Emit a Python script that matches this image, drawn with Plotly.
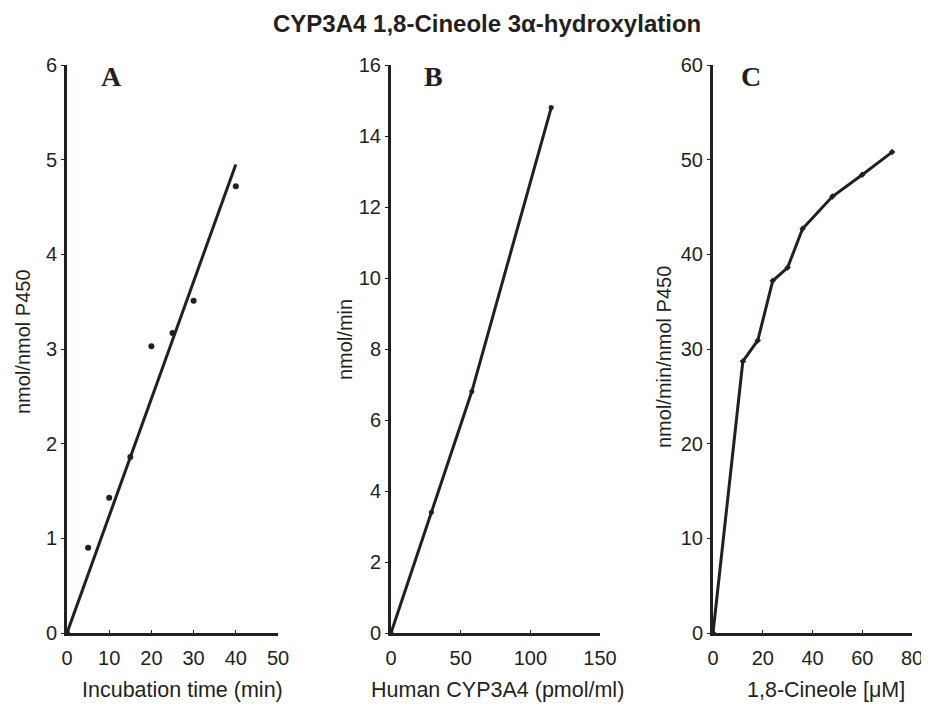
import plotly.graph_objects as go

# Panel A: time course
time_min = [0, 5, 10, 15, 20, 25, 30, 40]
product_a = [0, 0.9, 1.43, 1.86, 3.03, 3.17, 3.51, 4.72]
fit_time = [0, 40]
fit_a = [0, 4.95]

# Panel B: enzyme concentration
cyp_pmol = [0, 29, 58, 115]
rate_b = [0, 3.4, 6.8, 14.8]

# Panel C: substrate concentration
cineole_um = [0, 12, 18, 24, 30, 36, 48, 60, 72]
rate_c = [0, 28.7, 30.9, 37.2, 38.6, 42.7, 46.1, 48.4, 50.8]

INK = "#231f20"
W, H = 929, 705
OFF = 8  # page body margin offset

def px(x):
    return (x - OFF) / W

def py(y):
    return 1 - (y - OFF) / H

fig = go.Figure()

fig.add_trace(go.Scatter(x=fit_time, y=fit_a, mode="lines",
                         line=dict(color=INK, width=3), xaxis="x", yaxis="y",
                         cliponaxis=False, showlegend=False))
fig.add_trace(go.Scatter(x=time_min, y=product_a, mode="markers",
                         marker=dict(color=INK, size=6, symbol="circle"),
                         xaxis="x", yaxis="y", cliponaxis=False, showlegend=False))
fig.add_trace(go.Scatter(x=cyp_pmol, y=rate_b, mode="lines+markers",
                         line=dict(color=INK, width=3),
                         marker=dict(color=INK, size=5),
                         xaxis="x2", yaxis="y2", cliponaxis=False, showlegend=False))
fig.add_trace(go.Scatter(x=cineole_um, y=rate_c, mode="lines+markers",
                         line=dict(color=INK, width=3),
                         marker=dict(color=INK, size=5, symbol="diamond"),
                         xaxis="x3", yaxis="y3", cliponaxis=False, showlegend=False))

ydom = [py(633), py(65)]
tickfont = dict(family="Liberation Sans, Arial", size=20, color=INK)

def xax(dom, rng, dtick, anchor):
    return dict(domain=dom, range=rng, dtick=dtick, tick0=0, anchor=anchor,
                showline=True, linewidth=3, linecolor=INK, showgrid=False,
                zeroline=False, ticks="inside", ticklen=3, tickwidth=1,
                tickcolor=INK, tickfont=tickfont, ticklabelstandoff=5,
                automargin=False, fixedrange=True)

def yax(rng, dtick, anchor):
    return dict(domain=ydom, range=rng, dtick=dtick, tick0=0, anchor=anchor,
                showline=True, linewidth=3, linecolor=INK, showgrid=False,
                zeroline=False, ticks="outside", ticklen=3, tickwidth=1,
                tickcolor=INK, tickfont=tickfont, ticklabelstandoff=0,
                automargin=False, fixedrange=True)

fig.update_layout(
    width=W, height=H,
    margin=dict(l=0, r=0, t=0, b=0, pad=0),
    paper_bgcolor="white", plot_bgcolor="white",
    xaxis=xax([px(67), px(278)], [0, 50], 10, "y"),
    yaxis=yax([0, 6], 1, "x"),
    xaxis2=xax([px(391), px(600)], [0, 150], 50, "y2"),
    yaxis2=yax([0, 16], 2, "x2"),
    xaxis3=xax([px(713), px(912)], [0, 80], 20, "y3"),
    yaxis3=yax([0, 60], 10, "x3"),
)

def note(text, x, y, font, angle=0):
    return dict(text=text, x=px(x), y=py(y), xref="paper", yref="paper",
                xanchor="center", yanchor="middle", showarrow=False,
                textangle=angle, font=font)

font_lbl = dict(family="Liberation Sans, Arial", size=20, color=INK)
font_xlbl = dict(family="Liberation Sans, Arial", size=21.5, color=INK)
ann = []
ann.append(note("<b>CYP3A4 1,8-Cineole 3α-hydroxylation</b>", 487, 23,
                dict(family="Liberation Sans, Arial", size=24, color=INK)))
for lbl, cx in [("A", 111), ("B", 433), ("C", 751)]:
    ann.append(note("<b>" + lbl + "</b>", cx, 76,
                    dict(family="Liberation Serif, Times New Roman", size=28, color=INK)))
for lbl, cx in [("Incubation time (min)", 182), ("Human CYP3A4 (pmol/ml)", 497),
                ("1,8-Cineole [μM]", 826)]:
    ann.append(note(lbl, cx, 690, font_xlbl))
for lbl, cx, cy in [("nmol/nmol P450", 23, 342), ("nmol/min", 345, 340),
                    ("nmol/min/nmol P450", 664, 357)]:
    ann.append(note(lbl, cx, cy, font_lbl, angle=-90))
fig.update_layout(annotations=ann)

fig.write_html("out.html")
